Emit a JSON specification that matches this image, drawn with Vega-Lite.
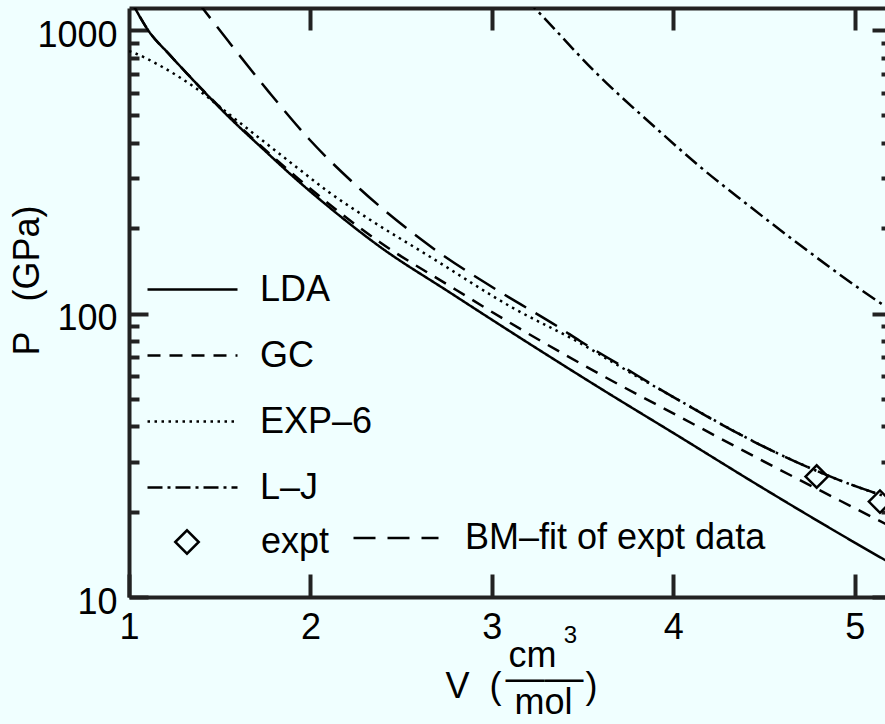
{
  "$schema": "https://vega.github.io/schema/vega-lite/v6.json",
  "width": 762,
  "height": 589,
  "autosize": {"type": "none"},
  "padding": {"left": 129, "top": 8, "right": 0, "bottom": 127},
  "background": "#f0ffff",
  "config": {
    "view": {"stroke": null, "fill": null},
    "font": "Liberation Sans",
    "axis": {
      "domain": false, "domainColor": "#222222", "domainWidth": 4, "ticks": true, "tickColor": "#222222", "tickWidth": 4,
      "labelColor": "black", "titleColor": "black", "labelFont": "Liberation Sans", "titleFont": "Liberation Sans",
      "labelFontSize": 36, "titleFontSize": 36, "titleFontWeight": "normal", "grid": false,
      "labelFlush": false, "labelOverlap": false, "zindex": 1
    },
    "legend": {
      "labelFont": "Liberation Sans", "labelFontSize": 36, "labelColor": "black", "labelLimit": 0,
      "padding": 0, "titleLimit": 0
    }
  },
  "datasets": {
    "lda": [
      {"V": 1.0, "P": 1306, "series": "LDA"}, {"V": 1.0386, "P": 1177, "series": "LDA"}, {"V": 1.1047, "P": 1000, "series": "LDA"},
      {"V": 1.2259, "P": 816, "series": "LDA"}, {"V": 1.3691, "P": 650, "series": "LDA"}, {"V": 1.551, "P": 493, "series": "LDA"},
      {"V": 1.7328, "P": 383.6, "series": "LDA"}, {"V": 1.9201, "P": 298, "series": "LDA"}, {"V": 2.1019, "P": 237.5, "series": "LDA"},
      {"V": 2.3829, "P": 172, "series": "LDA"}, {"V": 2.7686, "P": 118.6, "series": "LDA"}, {"V": 3.1543, "P": 82.2, "series": "LDA"},
      {"V": 3.595, "P": 54.6, "series": "LDA"}, {"V": 4.0358, "P": 36.7, "series": "LDA"}, {"V": 4.4766, "P": 24.6, "series": "LDA"},
      {"V": 4.9174, "P": 16.7, "series": "LDA"}, {"V": 5.2, "P": 13.13, "series": "LDA"}
    ],
    "gc": [
      {"V": 1.0, "P": 1306, "series": "GC"}, {"V": 1.0386, "P": 1177, "series": "GC"}, {"V": 1.1047, "P": 1000, "series": "GC"},
      {"V": 1.2259, "P": 816, "series": "GC"}, {"V": 1.3691, "P": 650, "series": "GC"}, {"V": 1.551, "P": 497.4, "series": "GC"},
      {"V": 1.9201, "P": 304, "series": "GC"}, {"V": 2.3829, "P": 178.4, "series": "GC"}, {"V": 2.7686, "P": 125, "series": "GC"},
      {"V": 3.1543, "P": 88.4, "series": "GC"}, {"V": 3.595, "P": 61.1, "series": "GC"}, {"V": 4.0358, "P": 43.2, "series": "GC"},
      {"V": 4.4766, "P": 30.6, "series": "GC"}, {"V": 4.9174, "P": 21.9, "series": "GC"}, {"V": 5.2, "P": 17.7, "series": "GC"}
    ],
    "exp6": [
      {"V": 1.0, "P": 843, "series": "EXP–6"}, {"V": 1.0331, "P": 828, "series": "EXP–6"}, {"V": 1.1819, "P": 742, "series": "EXP–6"},
      {"V": 1.3693, "P": 623, "series": "EXP–6"}, {"V": 1.551, "P": 505, "series": "EXP–6"}, {"V": 1.7328, "P": 409, "series": "EXP–6"},
      {"V": 1.9201, "P": 329.5, "series": "EXP–6"}, {"V": 2.1019, "P": 268, "series": "EXP–6"}, {"V": 2.3224, "P": 215.4, "series": "EXP–6"},
      {"V": 2.659, "P": 158.6, "series": "EXP–6"}, {"V": 3.1165, "P": 104.6, "series": "EXP–6"}, {"V": 3.4858, "P": 78.7, "series": "EXP–6"},
      {"V": 3.7062, "P": 65.0, "series": "EXP–6"}, {"V": 3.9984, "P": 50.8, "series": "EXP–6"}, {"V": 4.5496, "P": 32.7, "series": "EXP–6"},
      {"V": 4.974, "P": 25.0, "series": "EXP–6"}, {"V": 5.2, "P": 22.3, "series": "EXP–6"}
    ],
    "lj": [
      {"V": 3.1826, "P": 1297, "series": "L–J"}, {"V": 3.256, "P": 1160, "series": "L–J"}, {"V": 3.5591, "P": 722.5, "series": "L–J"},
      {"V": 3.9267, "P": 437.8, "series": "L–J"}, {"V": 4.1471, "P": 329.5, "series": "L–J"}, {"V": 4.3953, "P": 246, "series": "L–J"},
      {"V": 4.6615, "P": 181.7, "series": "L–J"}, {"V": 5.1575, "P": 107.2, "series": "L–J"}, {"V": 5.2, "P": 102.9, "series": "L–J"}
    ],
    "bm": [
      {"V": 1.3638, "P": 1294, "series": "BM–fit of expt data"}, {"V": 1.4134, "P": 1177, "series": "BM–fit of expt data"},
      {"V": 1.5512, "P": 907, "series": "BM–fit of expt data"}, {"V": 1.7716, "P": 604, "series": "BM–fit of expt data"},
      {"V": 1.9921, "P": 412.6, "series": "BM–fit of expt data"}, {"V": 2.2732, "P": 275, "series": "BM–fit of expt data"},
      {"V": 2.659, "P": 173, "series": "BM–fit of expt data"}, {"V": 3.0283, "P": 121, "series": "BM–fit of expt data"},
      {"V": 3.3755, "P": 88.9, "series": "BM–fit of expt data"}, {"V": 3.4858, "P": 80.0, "series": "BM–fit of expt data"},
      {"V": 3.7062, "P": 65.8, "series": "BM–fit of expt data"}, {"V": 3.9984, "P": 50.8, "series": "BM–fit of expt data"},
      {"V": 4.5496, "P": 32.7, "series": "BM–fit of expt data"}, {"V": 4.974, "P": 25.0, "series": "BM–fit of expt data"},
      {"V": 5.2, "P": 22.3, "series": "BM–fit of expt data"}
    ],
    "expt": [
      {"V": 4.7904, "P": 26.6, "series": "expt"}, {"V": 5.1393, "P": 21.7, "series": "expt"}
    ]
  },
  "layer": [
    {
      "data": {"name": "lda"},
      "mark": {"type": "line", "stroke": "black", "strokeWidth": 2.5, "clip": true, "interpolate": "monotone"},
      "encoding": {
        "x": {"field": "V", "type": "quantitative", "scale": {"domain": [1, 5.2], "nice": false, "zero": false},
          "axis": {"orient": "bottom", "values": [1, 2, 3, 4, 5], "domain": true, "domainColor": "#222222", "domainWidth": 4,
            "tickSize": -23, "tickColor": "#222222", "tickWidth": 4, "labelPadding": 36, "format": "d",
            "title": "V\u00a0\u00a0(", "titleX": 316, "titleY": 100, "titleAlign": "left", "titleBaseline": "alphabetic", "titleAngle": 0}},
        "y": {"field": "P", "type": "quantitative", "scale": {"type": "log", "domain": [10, 1196], "nice": false},
          "axis": {"orient": "left", "values": [10, 100, 1000], "domain": true, "domainColor": "#222222", "domainWidth": 4,
            "tickSize": -19, "tickColor": "#222222", "tickWidth": 4, "labelPadding": 31, "labelOffset": 5, "format": "d",
            "title": "P\u00a0\u00a0\u00a0(GPa)", "titleX": -91, "titleY": 272, "titleAlign": "center", "titleBaseline": "alphabetic", "titleAngle": 270}},
        "strokeDash": {"field": "series", "type": "nominal",
          "scale": {"domain": ["LDA", "GC", "EXP–6", "L–J"], "range": [[1, 0], [13, 9], [2.5, 4.5], [15, 5, 3, 5]]},
          "legend": {"title": null, "orient": "none", "legendX": 17, "legendY": 235, "symbolType": "stroke", "symbolSize": 8100,
            "symbolStrokeWidth": 2.5, "symbolStrokeColor": "black", "labelOffset": 21, "rowPadding": 1}}
      }
    },
    {
      "data": {"name": "gc"},
      "mark": {"type": "line", "stroke": "black", "strokeWidth": 2.5, "clip": true, "interpolate": "monotone"},
      "encoding": {
        "x": {"field": "V", "type": "quantitative",
          "axis": {"orient": "top", "values": [2, 3, 4, 5], "domain": true, "domainColor": "#222222", "domainWidth": 4,
            "tickSize": -22, "tickColor": "#222222", "tickWidth": 4, "labels": false,
            "title": "mol", "titleX": 414, "titleY": 705, "titleAlign": "center", "titleBaseline": "alphabetic", "titleAngle": 0}},
        "y": {"field": "P", "type": "quantitative",
          "axis": {"orient": "left", "values": [20, 30, 40, 50, 60, 70, 80, 90, 200, 300, 400, 500, 600, 700, 800, 900],
            "tickSize": -10, "tickColor": "#222222", "tickWidth": 4, "labels": false, "title": null}},
        "strokeDash": {"field": "series", "type": "nominal"}
      }
    },
    {
      "data": {"name": "exp6"},
      "mark": {"type": "line", "stroke": "black", "strokeWidth": 2.5, "clip": true, "interpolate": "monotone"},
      "encoding": {
        "x": {"field": "V", "type": "quantitative",
          "axis": {"orient": "bottom", "ticks": false, "labels": false,
            "title": "cm", "titleX": 403, "titleY": 69, "titleAlign": "center", "titleBaseline": "alphabetic", "titleAngle": 0}},
        "y": {"field": "P", "type": "quantitative",
          "axis": {"orient": "right", "values": [10, 100, 1000], "domain": true, "domainColor": "#222222", "domainWidth": 4,
            "tickSize": -19, "tickColor": "#222222", "tickWidth": 4, "labels": false, "title": null}},
        "strokeDash": {"field": "series", "type": "nominal"}
      }
    },
    {
      "data": {"name": "lj"},
      "mark": {"type": "line", "stroke": "black", "strokeWidth": 2.5, "clip": true, "interpolate": "monotone"},
      "encoding": {
        "x": {"field": "V", "type": "quantitative",
          "axis": {"orient": "bottom", "ticks": false, "labels": false, "title": "3", "titleFontSize": 24, "titleX": 441, "titleY": 45, "titleAlign": "center", "titleBaseline": "alphabetic", "titleAngle": 0}},
        "y": {"field": "P", "type": "quantitative",
          "axis": {"orient": "right", "values": [20, 30, 40, 50, 60, 70, 80, 90, 200, 300, 400, 500, 600, 700, 800, 900],
            "tickSize": -10, "tickColor": "#222222", "tickWidth": 4, "labels": false, "title": null}},
        "strokeDash": {"field": "series", "type": "nominal"}
      }
    },
    {
      "data": {"name": "bm"},
      "mark": {"type": "line", "strokeWidth": 2.5, "strokeDash": [25, 11], "clip": true, "interpolate": "monotone"},
      "encoding": {
        "x": {"field": "V", "type": "quantitative",
          "axis": {"orient": "bottom", "ticks": false, "labels": false, "title": "——", "titleFontSize": 39, "titleX": 415, "titleY": 93, "titleAlign": "center", "titleBaseline": "alphabetic", "titleAngle": 0}},
        "y": {"field": "P", "type": "quantitative", "axis": null},
        "color": {"field": "series", "type": "nominal", "scale": {"domain": ["BM–fit of expt data"], "range": ["black"]},
          "legend": {"title": null, "orient": "none", "legendX": 223, "legendY": 486, "symbolType": "stroke", "symbolSize": 7225,
            "symbolStrokeWidth": 2.5, "symbolDash": [22, 12], "labelOffset": 25}}
      }
    },
    {
      "data": {"name": "expt"},
      "mark": {"type": "point", "filled": false, "stroke": "black", "strokeWidth": 2.5, "size": 500, "opacity": 1},
      "encoding": {
        "x": {"field": "V", "type": "quantitative",
          "axis": {"orient": "bottom", "ticks": false, "labels": false, "title": ")", "titleX": 456, "titleY": 100, "titleAlign": "left", "titleBaseline": "alphabetic", "titleAngle": 0}},
        "y": {"field": "P", "type": "quantitative", "axis": null},
        "shape": {"field": "series", "type": "nominal", "scale": {"domain": ["expt"], "range": ["diamond"]},
          "legend": {"title": null, "orient": "none", "legendX": 40, "legendY": 516, "symbolSize": 550, "symbolStrokeWidth": 2.5,
            "symbolStrokeColor": "black", "symbolFillColor": "transparent", "labelOffset": 56}}
      }
    }
  ],
  "resolve": {"axis": {"x": "independent", "y": "independent"}}
}
